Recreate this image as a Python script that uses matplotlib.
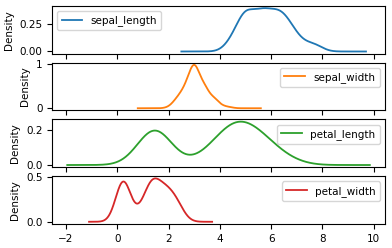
import numpy as np
import matplotlib
matplotlib.use("Agg")
import matplotlib.pyplot as plt

# iris measurements (150 rows: setosa, versicolor, virginica)
sepal_length = [
    5.1, 4.9, 4.7, 4.6, 5.0, 5.4, 4.6, 5.0, 4.4, 4.9, 5.4, 4.8, 4.8, 4.3, 5.8, 5.7, 5.4, 5.1, 5.7, 5.1,
    5.4, 5.1, 4.6, 5.1, 4.8, 5.0, 5.0, 5.2, 5.2, 4.7, 4.8, 5.4, 5.2, 5.5, 4.9, 5.0, 5.5, 4.9, 4.4, 5.1,
    5.0, 4.5, 4.4, 5.0, 5.1, 4.8, 5.1, 4.6, 5.3, 5.0,
    7.0, 6.4, 6.9, 5.5, 6.5, 5.7, 6.3, 4.9, 6.6, 5.2, 5.0, 5.9, 6.0, 6.1, 5.6, 6.7, 5.6, 5.8, 6.2, 5.6,
    5.9, 6.1, 6.3, 6.1, 6.4, 6.6, 6.8, 6.7, 6.0, 5.7, 5.5, 5.5, 5.8, 6.0, 5.4, 6.0, 6.7, 6.3, 5.6, 5.5,
    5.5, 6.1, 5.8, 5.0, 5.6, 5.7, 5.7, 6.2, 5.1, 5.7,
    6.3, 5.8, 7.1, 6.3, 6.5, 7.6, 4.9, 7.3, 6.7, 7.2, 6.5, 6.4, 6.8, 5.7, 5.8, 6.4, 6.5, 7.7, 7.7, 6.0,
    6.9, 5.6, 7.7, 6.3, 6.7, 7.2, 6.2, 6.1, 6.4, 7.2, 7.4, 7.9, 6.4, 6.3, 6.1, 7.7, 6.3, 6.4, 6.0, 6.9,
    6.7, 6.9, 5.8, 6.8, 6.7, 6.7, 6.3, 6.5, 6.2, 5.9,
]
sepal_width = [
    3.5, 3.0, 3.2, 3.1, 3.6, 3.9, 3.4, 3.4, 2.9, 3.1, 3.7, 3.4, 3.0, 3.0, 4.0, 4.4, 3.9, 3.5, 3.8, 3.8,
    3.4, 3.7, 3.6, 3.3, 3.4, 3.0, 3.4, 3.5, 3.4, 3.2, 3.1, 3.4, 4.1, 4.2, 3.1, 3.2, 3.5, 3.6, 3.0, 3.4,
    3.5, 2.3, 3.2, 3.5, 3.8, 3.0, 3.8, 3.2, 3.7, 3.3,
    3.2, 3.2, 3.1, 2.3, 2.8, 2.8, 3.3, 2.4, 2.9, 2.7, 2.0, 3.0, 2.2, 2.9, 2.9, 3.1, 3.0, 2.7, 2.2, 2.5,
    3.2, 2.8, 2.5, 2.8, 2.9, 3.0, 2.8, 3.0, 2.9, 2.6, 2.4, 2.4, 2.7, 2.7, 3.0, 3.4, 3.1, 2.3, 3.0, 2.5,
    2.6, 3.0, 2.6, 2.3, 2.7, 3.0, 2.9, 2.9, 2.5, 2.8,
    3.3, 2.7, 3.0, 2.9, 3.0, 3.0, 2.5, 2.9, 2.5, 3.6, 3.2, 2.7, 3.0, 2.5, 2.8, 3.2, 3.0, 3.8, 2.6, 2.2,
    3.2, 2.8, 2.8, 2.7, 3.3, 3.2, 2.8, 3.0, 2.8, 3.0, 2.8, 3.8, 2.8, 2.8, 2.6, 3.0, 3.4, 3.1, 3.0, 3.1,
    3.1, 3.1, 2.7, 3.2, 3.3, 3.0, 2.5, 3.0, 3.4, 3.0,
]
petal_length = [
    1.4, 1.4, 1.3, 1.5, 1.4, 1.7, 1.4, 1.5, 1.4, 1.5, 1.5, 1.6, 1.4, 1.1, 1.2, 1.5, 1.3, 1.4, 1.7, 1.5,
    1.7, 1.5, 1.0, 1.7, 1.9, 1.6, 1.6, 1.5, 1.4, 1.6, 1.6, 1.5, 1.5, 1.4, 1.5, 1.2, 1.3, 1.4, 1.3, 1.5,
    1.3, 1.3, 1.3, 1.6, 1.9, 1.4, 1.6, 1.4, 1.5, 1.4,
    4.7, 4.5, 4.9, 4.0, 4.6, 4.5, 4.7, 3.3, 4.6, 3.9, 3.5, 4.2, 4.0, 4.7, 3.6, 4.4, 4.5, 4.1, 4.5, 3.9,
    4.8, 4.0, 4.9, 4.7, 4.3, 4.4, 4.8, 5.0, 4.5, 3.5, 3.8, 3.7, 3.9, 5.1, 4.5, 4.5, 4.7, 4.4, 4.1, 4.0,
    4.4, 4.6, 4.0, 3.3, 4.2, 4.2, 4.2, 4.3, 3.0, 4.1,
    6.0, 5.1, 5.9, 5.6, 5.8, 6.6, 4.5, 6.3, 5.8, 6.1, 5.1, 5.3, 5.5, 5.0, 5.1, 5.3, 5.5, 6.7, 6.9, 5.0,
    5.7, 4.9, 6.7, 4.9, 5.7, 6.0, 4.8, 4.9, 5.6, 5.8, 6.1, 6.4, 5.6, 5.1, 5.6, 6.1, 5.6, 5.5, 4.8, 5.4,
    5.6, 5.1, 5.1, 5.9, 5.7, 5.2, 5.0, 5.2, 5.4, 5.1,
]
petal_width = [
    0.2, 0.2, 0.2, 0.2, 0.2, 0.4, 0.3, 0.2, 0.2, 0.1, 0.2, 0.2, 0.1, 0.1, 0.2, 0.4, 0.4, 0.3, 0.3, 0.3,
    0.2, 0.4, 0.2, 0.5, 0.2, 0.2, 0.4, 0.2, 0.2, 0.2, 0.2, 0.4, 0.1, 0.2, 0.2, 0.2, 0.2, 0.1, 0.2, 0.2,
    0.3, 0.3, 0.2, 0.6, 0.4, 0.3, 0.2, 0.2, 0.2, 0.2,
    1.4, 1.5, 1.5, 1.3, 1.5, 1.3, 1.6, 1.0, 1.3, 1.4, 1.0, 1.5, 1.0, 1.4, 1.3, 1.4, 1.5, 1.0, 1.5, 1.1,
    1.8, 1.3, 1.5, 1.2, 1.3, 1.4, 1.4, 1.7, 1.5, 1.0, 1.1, 1.0, 1.2, 1.6, 1.5, 1.6, 1.5, 1.3, 1.3, 1.3,
    1.2, 1.4, 1.2, 1.0, 1.3, 1.2, 1.3, 1.3, 1.1, 1.3,
    2.5, 1.9, 2.1, 1.8, 2.2, 2.1, 1.7, 1.8, 1.8, 2.5, 2.0, 1.9, 2.1, 2.0, 2.4, 2.3, 1.8, 2.2, 2.3, 1.5,
    2.3, 2.0, 2.0, 1.8, 2.1, 1.8, 1.8, 1.8, 2.1, 1.6, 1.9, 2.0, 2.2, 1.5, 1.4, 2.3, 2.4, 1.8, 1.8, 2.1,
    2.4, 2.3, 1.9, 2.3, 2.5, 2.3, 1.9, 2.0, 2.3, 1.8,
]

names = ["sepal_length", "sepal_width", "petal_length", "petal_width"]
columns = [sepal_length, sepal_width, petal_length, petal_width]
colors = ["#1f77b4", "#ff7f0e", "#2ca02c", "#d62728"]
legend_locs = ["upper left", "upper right", "upper right", "upper right"]


def kde_curve(vals, npts=1000):
    """Gaussian KDE with Scott's bandwidth, evaluated like pandas' density plot."""
    v = np.asarray(vals, float)
    n = len(v)
    bw = v.std(ddof=1) * n ** (-1.0 / 5)
    rng = v.max() - v.min()
    x = np.linspace(v.min() - 0.5 * rng, v.max() + 0.5 * rng, npts)
    z = (x[:, None] - v[None, :]) / bw
    y = np.exp(-0.5 * z ** 2).sum(axis=1) / (n * bw * np.sqrt(2 * np.pi))
    return x, y


plt.rcParams["font.size"] = 7.5
fig, axes = plt.subplots(4, 1, sharex=True, figsize=(3.92, 2.48), dpi=100)
fig.subplots_adjust(left=0.133, right=0.982, top=0.976, bottom=0.097, hspace=0.19)

for ax, name, col, c, loc in zip(axes, names, columns, colors, legend_locs):
    x, y = kde_curve(col)
    ax.plot(x, y, color=c, lw=1.3, label=name)
    ax.set_ylabel("Density")
    ax.legend(loc=loc)

axes[0].set_yticks([0.0, 0.25])
axes[1].set_yticks([0, 1])
axes[2].set_yticks([0.0, 0.2])
axes[3].set_yticks([0.0, 0.5])
axes[-1].set_xticks([-2, 0, 2, 4, 6, 8, 10])

fig.savefig("out.png", dpi=100)
